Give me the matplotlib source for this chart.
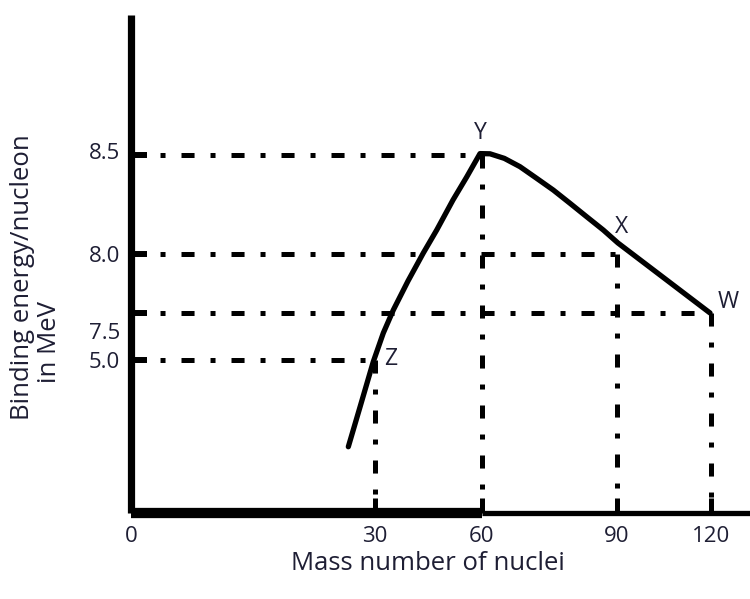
import numpy as np
import matplotlib
matplotlib.use("Agg")
import matplotlib.pyplot as plt
from matplotlib.transforms import ScaledTranslation

# ---------------- data ----------------
mass_ticks = [0, 30, 60, 90, 120]
be_ticks = [5.0, 7.5, 8.0, 8.5]
be_tick_labels = ["5.0", "7.5", "8.0", "8.5"]

curve_mass = [26.72, 28.16, 29.79, 32.33, 35.13, 39.25, 43.54, 47.30, 51.87, 55.71, 59.44,
              61.78, 64.96, 68.44, 72.16, 75.84, 79.56, 83.27, 86.96, 90.27, 119.7]
curve_be = [4.433, 4.693, 4.989, 6.436, 7.525, 7.771, 8.005, 8.121, 8.273, 8.389, 8.507,
            8.506, 8.483, 8.441, 8.382, 8.323, 8.256, 8.188, 8.121, 8.056, 7.5]

point_names = ["Z", "Y", "X", "W"]
point_mass = [30, 60, 90, 120]
point_be = [5.0, 8.5, 8.0, 7.5]

x_label = "Mass number of nuclei"
y_label_1 = "Binding energy/nucleon"
y_label_2 = "in MeV"

# ---------------- layout (schematic, non-linear axes) ----------------
W, H = 750, 599
x_knots_val = np.array([0, 30, 60, 90, 120, 132.5])
x_knots_pos = np.array([0, 244, 351, 486, 580, 619])
y_knots_val = np.array([4.0, 5.0, 7.5, 8.0, 8.5, 9.2])
y_knots_pos = np.array([0, 153, 200, 259, 358, 498])

def fx(v):
    return np.interp(v, x_knots_val, x_knots_pos, left=-1e3, right=1e3)
def ifx(p):
    return np.interp(p, x_knots_pos, x_knots_val)
def fy(v):
    return np.interp(v, y_knots_val, y_knots_pos, left=-1e3, right=1e3)
def ify(p):
    return np.interp(p, y_knots_pos, y_knots_val)

plt.rcParams['font.family'] = ['Open Sans', 'DejaVu Sans']
plt.rcParams['lines.scale_dashes'] = False
txt_color = '#1e1e34'

fig = plt.figure(figsize=(W / 100, H / 100), dpi=100)
ax = fig.add_axes([131 / W, (H - 513) / H, 619 / W, 498 / H])
ax.set_xscale('function', functions=(fx, ifx))
ax.set_yscale('function', functions=(fy, ify))
xmin, xmax = x_knots_val[0], x_knots_val[-1]
ymin, ymax = y_knots_val[0], y_knots_val[-1]
ax.set_xlim(xmin, xmax)
ax.set_ylim(ymin, ymax)
for s in ax.spines.values():
    s.set_visible(False)

# axis lines
ax.plot([xmin, xmin], [ymin, ymax], color='black', lw=5.2, solid_capstyle='butt', clip_on=False, zorder=5)
ax.plot([xmin, mass_ticks[2]], [ymin, ymin], color='black', lw=7.4, solid_capstyle='butt', clip_on=False, zorder=5)
ax.plot([mass_ticks[2], xmax], [ymin, ymin], color='black', lw=3.8, solid_capstyle='butt', clip_on=False, zorder=5)

# ticks
ax.set_xticks(mass_ticks)
ax.set_xticklabels([str(m) for m in mass_ticks])
ax.set_yticks(be_ticks)
ax.set_yticklabels(be_tick_labels)
ax.tick_params(axis='x', direction='in', length=11, width=3.6, pad=9,
               labelsize=16, labelcolor=txt_color, color='black')
ax.tick_params(axis='y', direction='in', length=11.5, width=4.3, pad=8,
               labelsize=16, labelcolor=txt_color, color='black')
ax.xaxis.get_ticklines()[0].set_visible(False)
for lab in ax.get_yticklabels():
    if lab.get_text() == "7.5":
        lab.set_transform(lab.get_transform() + ScaledTranslation(0, -13 / 72, fig.dpi_scale_trans))
    elif lab.get_text() == "8.5":
        lab.set_transform(lab.get_transform() + ScaledTranslation(0, 3 / 72, fig.dpi_scale_trans))

# dash-dot guide lines
dash = (0, (9.4, 11.5, 3.6, 11.5))
for m, b in zip(point_mass, point_be):
    ax.plot([xmin, m], [b, b], color='black', lw=3.6, linestyle=dash, dash_capstyle='butt', zorder=3)
    ax.plot([m, m], [b, ymin], color='black', lw=3.6, linestyle=dash, dash_capstyle='butt', zorder=3)

# curve
ax.plot(curve_mass, curve_be, color='black', lw=3.8, solid_joinstyle='round',
        solid_capstyle='round', zorder=6)

# point labels
offsets = {"Z": (9, 1, 'left', 'center'),
           "Y": (-2, 22, 'center', 'center'),
           "X": (5, 27, 'center', 'center'),
           "W": (7, 11, 'left', 'center')}
for n, m, b in zip(point_names, point_mass, point_be):
    dx, dy, ha, va = offsets[n]
    ax.annotate(n, (m, b), xytext=(dx, dy), textcoords='offset pixels',
                ha=ha, va=va, fontsize=16.5, color=txt_color)

# axis titles
fig.text(428 / W, 1 - 564 / H, x_label, ha='center', va='center', fontsize=18.5, color=txt_color)
fig.text(23 / W, 1 - 277 / H, y_label_1, ha='center', va='center', rotation=90, fontsize=18.5, color=txt_color)
fig.text(50 / W, 1 - 342 / H, y_label_2, ha='center', va='center', rotation=90, fontsize=18.5, color=txt_color)

fig.savefig("out.png", dpi=100)
